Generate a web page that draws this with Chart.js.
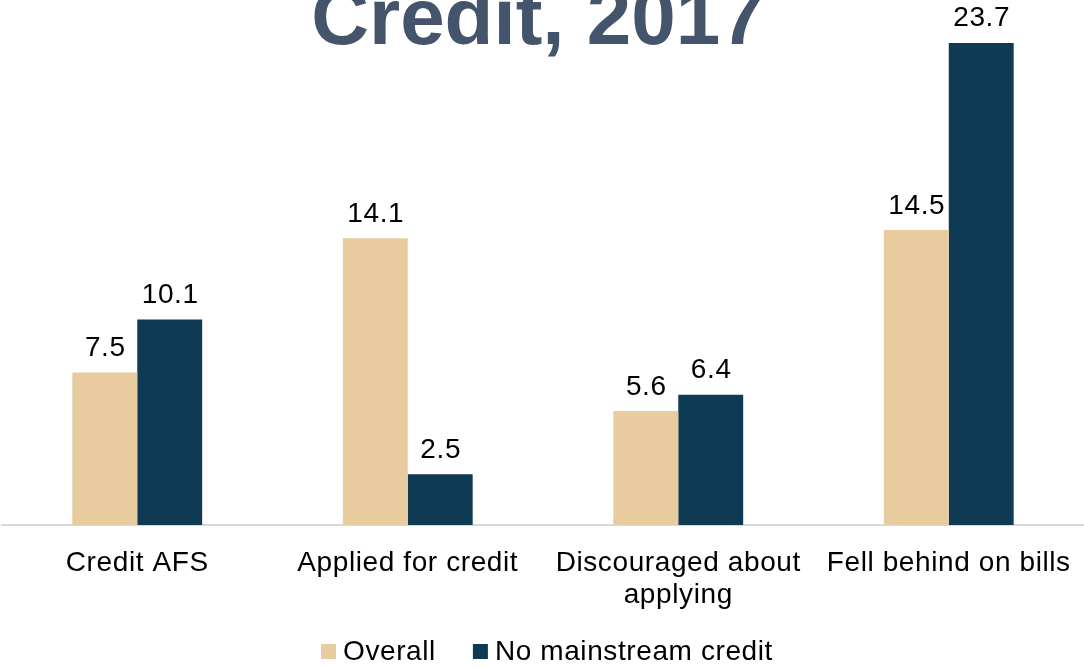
<!DOCTYPE html>
<html>
<head>
<meta charset="utf-8">
<title>Credit, 2017</title>
<script src="https://cdn.jsdelivr.net/npm/chart.js@4/dist/chart.umd.min.js"></script>
<style>
  html, body { margin: 0; padding: 0; background: #ffffff; overflow: hidden; }
  #wrap { position: relative; width: 1084px; height: 667px; }
  canvas { display: block; }
</style>
</head>
<body>
<div id="wrap"><canvas id="chart" width="1084" height="667"></canvas></div>
<script>
// Chart text and values
const titleText = 'Credit, 2017';
const categories = ['Credit AFS', 'Applied for credit', ['Discouraged about', 'applying'], 'Fell behind on bills'];
const seriesNames = ['Overall', 'No mainstream credit'];
const overallValues = [7.5, 14.1, 5.6, 14.5];
const noMainstreamValues = [10.1, 2.5, 6.4, 23.7];
const seriesColors = ['#E8CC9F', '#0E3A53'];

const FONT = '"Liberation Sans", Arial, Helvetica, sans-serif';
const TEXT_SPACING = '0.6px';

// Slightly tracked text for everything the chart draws
const tracking = {
  id: 'tracking',
  beforeDraw(chart) { chart.ctx.letterSpacing = TEXT_SPACING; }
};

// Large slide heading across the top
const slideTitle = {
  id: 'slideTitle',
  afterDraw(chart) {
    const ctx = chart.ctx;
    ctx.save();
    ctx.letterSpacing = '0px';
    ctx.font = 'bold 80px ' + FONT;
    ctx.fillStyle = '#44546A';
    ctx.textAlign = 'center';
    ctx.textBaseline = 'alphabetic';
    ctx.fillText(titleText, 538, 43.5);
    ctx.restore();
  }
};

// Value above each bar
const valueLabels = {
  id: 'valueLabels',
  afterDatasetsDraw(chart) {
    const ctx = chart.ctx;
    ctx.save();
    ctx.letterSpacing = TEXT_SPACING;
    ctx.font = '28px ' + FONT;
    ctx.fillStyle = '#000000';
    ctx.textAlign = 'center';
    ctx.textBaseline = 'alphabetic';
    chart.data.datasets.forEach((ds, i) => {
      chart.getDatasetMeta(i).data.forEach((bar, j) => {
        ctx.fillText(ds.data[j].toFixed(1), bar.x + 0.5, bar.y - 16.5);
      });
    });
    ctx.restore();
  }
};

// Legend row at the bottom
const bottomLegend = {
  id: 'bottomLegend',
  afterDraw(chart) {
    const ctx = chart.ctx;
    ctx.save();
    ctx.letterSpacing = TEXT_SPACING;
    ctx.font = '28px ' + FONT;
    const box = 15, gap = 7, itemGap = 37, cy = 652;
    let x = 321;
    chart.data.datasets.forEach(ds => {
      const w = ctx.measureText(ds.label).width;
      ctx.fillStyle = ds.backgroundColor;
      ctx.fillRect(x, Math.round(cy - box / 2) - 1, box, box);
      x += box + gap;
      ctx.fillStyle = '#000000';
      ctx.textAlign = 'left';
      ctx.textBaseline = 'middle';
      ctx.fillText(ds.label, x, cy);
      x += w + itemGap;
    });
    ctx.restore();
  }
};

new Chart(document.getElementById('chart').getContext('2d'), {
  type: 'bar',
  data: {
    labels: categories,
    datasets: [
      { label: seriesNames[0], data: overallValues, backgroundColor: seriesColors[0] },
      { label: seriesNames[1], data: noMainstreamValues, backgroundColor: seriesColors[1] }
    ]
  },
  options: {
    responsive: false,
    animation: false,
    devicePixelRatio: 1,
    layout: { padding: { top: 16.5, left: 2, right: 0, bottom: 0 } },
    datasets: { bar: { categoryPercentage: 0.48, barPercentage: 1, borderWidth: 0 } },
    plugins: {
      legend: { display: false },
      title: { display: false },
      tooltip: { enabled: false }
    },
    scales: {
      x: {
        grid: { display: false, drawTicks: false },
        border: { display: true, color: '#D9D9D9', width: 2 },
        ticks: {
          color: '#000000',
          font: { family: FONT, size: 28, lineHeight: 1.125 },
          padding: 23,
          maxRotation: 0,
          minRotation: 0,
          autoSkip: false
        },
        afterFit(scale) {
          // axis spans the full width; labels fit without side padding
          scale.height = 142;
          scale.paddingLeft = 0;
          scale.paddingRight = 0;
        }
      },
      y: { display: false, min: 0, max: 25 }
    }
  },
  plugins: [tracking, valueLabels, slideTitle, bottomLegend]
});
</script>
</body>
</html>
